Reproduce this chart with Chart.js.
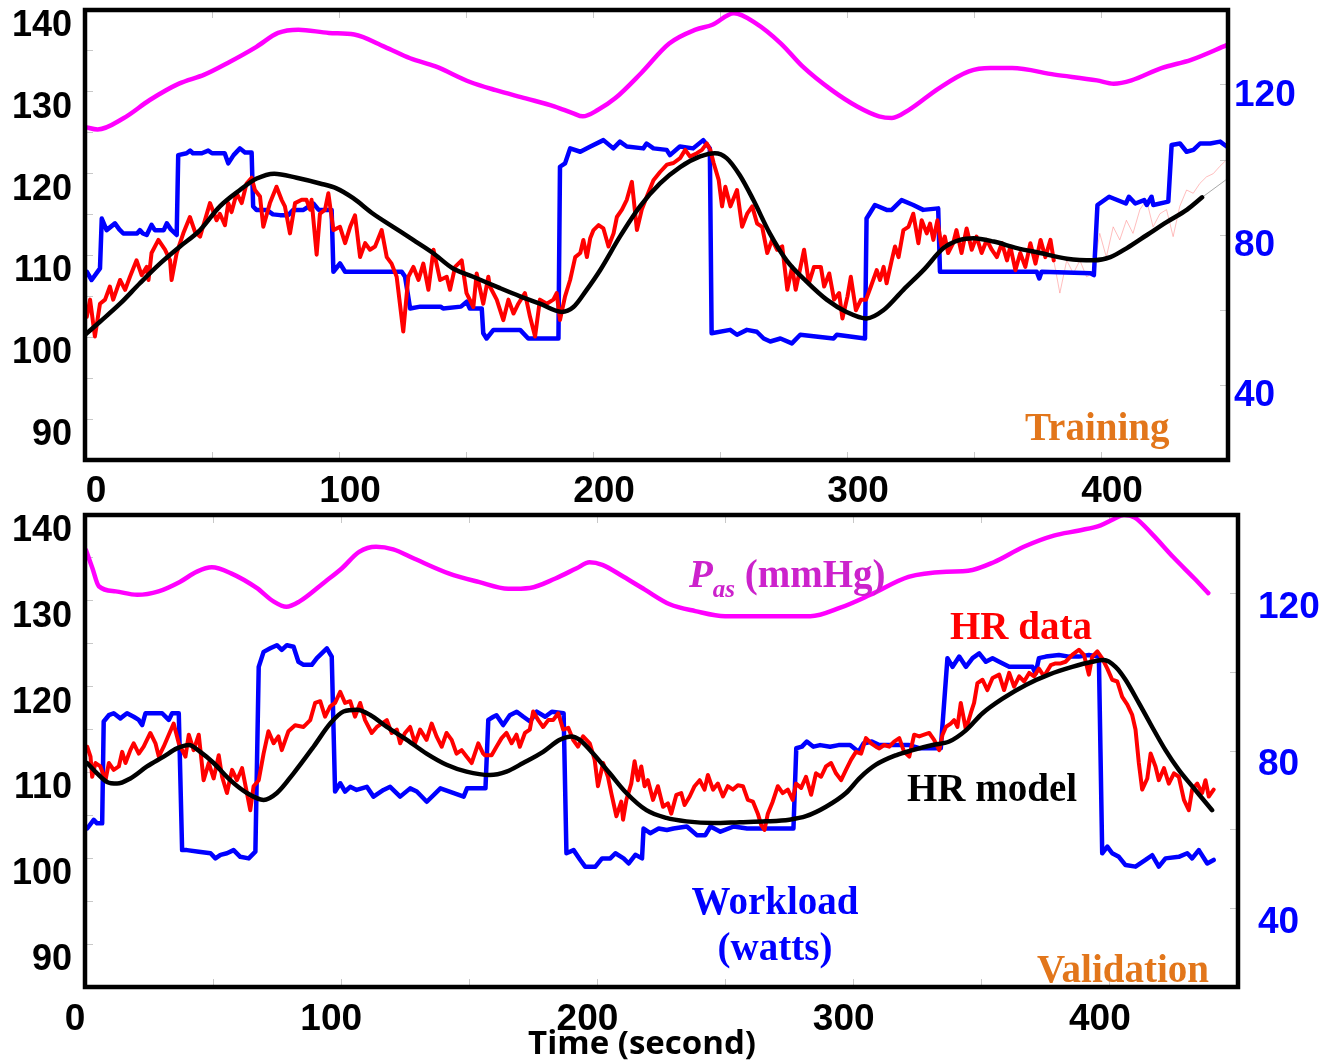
<!DOCTYPE html>
<html><head><meta charset="utf-8">
<script src="https://cdn.jsdelivr.net/npm/chart.js@4.4.1/dist/chart.umd.min.js"></script>
<style>
html,body{margin:0;padding:0;background:#fff;}
#wrap{position:relative;width:1340px;height:1061px;overflow:hidden;background:#fff;}
canvas{position:absolute;left:0;}
#c1{top:0;}
#c2{top:508px;}
</style></head><body>
<div id="wrap">
<canvas id="c1" width="1340" height="508"></canvas>
<canvas id="c2" width="1340" height="553"></canvas>
</div>
<script>
// ---------- tick values / labels ----------
const timeTicks = [0,50,100,150,200,250,300,350,400,450];
const timeTickLabels = [0,100,200,300,400];
const hrTicks = [85,90,95,100,105,110,115,120,125,130,135,140];
const hrTickLabels = [90,100,110,120,130,140];
const workTicks = [20,40,60,80,100,120,140];
const workTickLabels = [40,80,120];

// ---------- TRAINING panel data: [time (s), value] ----------
const trainPas = [[0,125.7],[5,125.4],[15.3,126.8],[25.5,129.0],[37,131.0],[47,132.1],[56,133.5],[67.5,135.5],[76,137.2],[84,137.6],[96,137.2],[106,137.0],[118,135.5],[128,134.1],[138,133.1],[151.6,131.2],[161.7,130.2],[173.5,129.2],[185,128.2],[192,127.4],[196,127.0],[202,127.8],[208.7,129.2],[219,132.3],[230,135.9],[240.4,137.6],[247,138.2],[255.5,139.6],[264,138.4],[274,135.9],[282.5,133.1],[294,130.2],[304,128.2],[312.6,127.0],[317.7,126.8],[324.4,127.8],[336,130.4],[348,132.5],[356.5,132.9],[365,132.9],[381.7,132.1],[398.4,131.4],[405,131.0],[412,131.4],[423.8,132.9],[435.5,133.9],[449.5,135.7]];

const trainWork = [[0.7,70.2],[2.6,68],[5.9,71.1],[6.6,84.4],[8.5,81.3],[11.8,83.1],[13.5,81.5],[15.1,80.4],[20.5,80.4],[21.6,81.3],[22.8,80.4],[24.3,80],[26.2,82.7],[27.5,81.3],[31,81.3],[32.2,83.1],[33.8,81.5],[36.1,80],[36.7,101.3],[40,101.8],[41.4,102.5],[42.5,101.8],[46,101.8],[48.5,102.5],[50,101.8],[55,101.8],[56.4,99.1],[58.5,101.3],[61,103.1],[63,102],[65.6,102],[66.2,87.6],[67.5,86.7],[71.5,86.7],[74,85.5],[76.8,85.3],[80,85.3],[82,86.7],[86,86.7],[89.9,88.4],[92,86.7],[97.1,86.7],[97.8,70.2],[100.4,72.4],[102.4,70.2],[124.7,70.2],[126,68.9],[128,60.4],[132,60.9],[140,60.9],[141,60.4],[148,60.9],[150.3,62.2],[151.5,60.4],[156.2,60.4],[156.8,53.8],[158.1,52.4],[160.8,54.7],[171.3,54.7],[174.5,52.4],[186.4,52.4],[187,98.2],[189,99.1],[191,103.1],[195,102.2],[199,103.6],[204.1,105.3],[208,103.1],[210.6,104.9],[213.3,103.6],[219.8,103.1],[221.1,104.4],[223.8,103.1],[229,102.7],[230.3,101.3],[234.2,103.6],[239.4,103.1],[243.4,105.3],[246,103.1],[246.7,53.8],[254,54.7],[256.7,53.4],[260.6,54.7],[264.5,54.2],[267.2,52.4],[269.8,51.6],[273.8,52.4],[278.3,51.1],[281.6,53.4],[294.7,52.4],[296,53.4],[307.1,52.4],[307.7,84.4],[311,88],[315.6,86.7],[317.6,86.7],[321.5,89.3],[326.1,88],[330,86.7],[335.9,87.1],[336.6,70.2],[374.7,70.2],[375.7,68.4],[376.6,70.2],[395.9,69.8],[397.2,69.3],[398.6,88],[403.2,90.2],[409.8,88.4],[411,90.2],[413.5,88.4],[417,89.3],[418,88],[419.9,90.2],[420.6,88],[426.5,88.9],[427.8,104],[431.1,104.4],[433.7,102.2],[436.4,102.7],[439,104.4],[443,104.4],[446.9,104.9],[449.5,103.6]];

const trainHR = [[0.7,102.5],[2,104.6],[3.9,100.1],[5.9,104.1],[7.9,104.6],[9.8,106.2],[11.1,104.6],[13.8,107],[15.8,105.8],[17.7,107.4],[20.3,109.4],[22.3,107.6],[24.3,108.6],[25,107],[26.2,110.3],[28.9,111.9],[31.5,110.7],[33.5,109.4],[34.1,107],[36.1,110.3],[38.7,112.7],[41.3,114.7],[43.3,112.9],[45.3,112.3],[47.2,114.3],[49.2,116.4],[51.8,114.3],[53.1,115.1],[55.1,113.7],[56.4,116.4],[57.7,115.3],[59.7,117.6],[61.7,116.4],[63.6,118.8],[65.6,119.5],[66.9,118],[68.9,117.2],[70.2,113.5],[72.8,116.4],[75.4,118.4],[77.4,116.8],[78.7,116],[80.7,112.7],[82.7,116.4],[85.3,116.8],[87.2,116.8],[88.6,115.6],[89.2,116.8],[91.2,110.1],[92.5,115.1],[94.5,115.6],[95.8,117.6],[97.8,113.1],[100.4,113.5],[102.4,111.5],[104.4,113.5],[106.3,114.9],[108.3,109.8],[110.3,111.5],[112.2,110.7],[114.2,111.1],[116.8,113.1],[118.8,109.8],[120.7,109],[122.7,107.4],[125.3,100.7],[127.3,107.4],[129.3,108.6],[131.3,107],[133.2,109],[135.2,105.8],[137.2,110.7],[139.8,107],[142.4,107.4],[143.7,105.8],[145.7,108.6],[148.3,109.4],[150.2,105.4],[152.9,103.7],[154.2,107.8],[156.8,104.1],[158.8,107.4],[159.4,106.2],[162.1,104.6],[164.7,102.1],[166.7,104.6],[168.7,102.9],[170.6,104.1],[173.2,105.4],[175.2,102.5],[177.2,100.1],[179.1,104.6],[181.8,104.1],[184.4,104.6],[185.7,105.4],[187,102.1],[189,105],[191,107],[193,109.8],[195,110.3],[196.2,111.9],[197.6,109.8],[198.9,112.1],[200.2,113.1],[202.2,113.7],[204.1,113.3],[206.1,111.1],[208.1,112.7],[209.4,114.7],[211.4,115.6],[213.3,116.8],[215.3,119],[217.3,113.1],[219.2,115.6],[221.2,117.2],[223.8,119.2],[226.4,120.2],[229.1,121.1],[231.7,121.3],[234.3,121.9],[236.3,122.9],[238.2,122.1],[240.9,122.5],[242.9,122.9],[244.8,123.7],[246.2,122.9],[247.5,121.3],[249.5,119.2],[250.8,116],[252.1,118.4],[254.1,116],[256.7,118],[258.7,113.5],[260.7,115.1],[262.7,116],[264.6,113.9],[266.6,113.5],[268.6,110.3],[270.5,111.9],[272.5,110.7],[274.5,111.1],[276.5,105.8],[278.4,108.6],[279.8,105.8],[281.7,108.6],[283.1,110.7],[285,106.6],[287,108.6],[289.7,108.6],[291,106.2],[293,107.8],[294.9,104.6],[296.9,105.4],[298.2,102.3],[300.2,105],[301.5,107.4],[303.5,103.3],[305.5,104.6],[307.5,104.6],[309.4,106.2],[311.7,108.2],[313,107],[314.4,108.6],[315.6,106.6],[317.6,109.4],[318.9,111.1],[320.3,109.8],[322.2,113.1],[324.2,113.5],[326.1,115.1],[328.1,111.5],[329.4,114.3],[331.4,112.7],[332.7,113.9],[334,111.9],[335.6,114.3],[337.2,111.1],[338.5,112.3],[339.8,110.3],[341.8,111.5],[343.1,113.1],[345.1,110.3],[347.1,113.3],[349.1,110.7],[351,112.3],[353,110.3],[355,111.9],[357,110.7],[359,109.8],[361,111.5],[363,109.4],[364.3,111.1],[366.3,108.2],[368.2,110.3],[370.2,108.6],[372.2,111.5],[374.2,109],[376.2,111.9],[378.1,109.8],[380.1,111.9],[381.4,109.4]];

const trainHRFaint = [[381.4,109.4],[383.8,105.4],[386.5,109.4],[389.1,107.8],[391.7,109.4],[394.3,107.4],[396.9,107.8],[399.5,112.7],[402.1,109.8],[404.8,113.5],[407.4,111.9],[410,114.3],[412.6,112.7],[415.3,115.6],[417.9,116.8],[420.5,113.5],[423.2,115.1],[425.8,115.6],[428.4,112.3],[431,116],[433.7,118],[436.3,117.6],[438.9,118.8],[441.5,119.6],[444.2,120],[446.8,120.9],[448.8,121.5]];

const trainModel = [[0,100.3],[5.9,101.9],[13.8,104.1],[21.6,106.6],[29.5,109],[37.4,111.1],[45.3,113.1],[53.1,116],[61,118],[67.6,119.4],[74.5,120],[83.3,119.5],[92.5,118.8],[99,118.2],[105.6,117],[113.4,115.1],[121.3,113.5],[129.2,111.9],[137,110.3],[144.9,108.4],[152.8,107.4],[163.4,106],[171.3,105],[179.1,104.1],[187.7,103.1],[192.3,103.7],[197.5,105.8],[202.8,108.2],[210.6,112.3],[218.5,116],[226.4,118.8],[234.3,120.8],[242.2,122.1],[248,122.5],[252.6,121.9],[257.8,119.8],[263.1,116.8],[269.6,112.7],[276.2,109.4],[284.1,106.8],[292,104.6],[299.8,103.1],[307.7,102.3],[314.3,103.3],[322.2,105.8],[330.1,108.2],[338,110.9],[344.5,111.9],[349.8,112.1],[357.7,111.7],[366.9,110.9],[376.1,110.3],[386.6,109.6],[397.1,109.4],[403.7,109.8],[410.2,110.9],[418.1,112.5],[426,114.1],[433.9,115.6],[439.8,117.1]];

const trainModelFaint = [[439.8,117.1],[449,119.2]];

// ---------- VALIDATION panel data: [time (s), value] ----------
const valPas = [[0.4,135.9],[2.9,133.8],[5.4,131.7],[12,131.1],[20.4,130.7],[28.7,131.1],[37,132.2],[43.7,133.4],[49.5,133.9],[57,133.2],[67,131.5],[73.7,129.9],[78.6,129.3],[83.6,129.9],[93.6,132.2],[100.3,133.8],[107,135.7],[113.6,136.3],[120.3,136],[128.6,134.9],[141.9,133.2],[153.6,132.2],[165.2,131.4],[173.6,131.5],[183.6,132.6],[191.9,133.8],[196.9,134.5],[201.9,134.2],[210.2,132.8],[218.5,131.3],[228.2,129.6],[238.2,128.8],[249.8,128.2],[266.5,128.2],[283.1,128.2],[294.8,129.2],[306.5,130.7],[321.4,132.8],[336.4,133.4],[344.7,133.5],[354.7,134.5],[366.4,136.3],[378.1,137.6],[388.1,138.2],[396.4,138.8],[401.4,139.5],[405.5,140],[409.7,139.7],[416.4,137.8],[424.7,135.1],[433,132.6],[438.4,130.9]];

const valWork = [[0.85,60.3],[3.4,62.5],[4.7,61.6],[6.7,61.6],[7.3,87.5],[9.3,89.1],[11.2,89.6],[13.8,88.3],[16.4,89.6],[19,88.7],[21,87.9],[22.3,86.6],[23.6,89.6],[30.1,89.6],[32.7,87.9],[34,89.6],[36.6,89.6],[37.9,54.8],[39.8,54.8],[44.4,54.4],[49,54],[50.9,52.7],[52.9,53.6],[55.4,54],[58,54.8],[60.6,53.1],[63.9,52.7],[66.5,54.4],[67.8,101.4],[69.7,105.2],[72.3,106.1],[74.9,106.9],[76.8,105.7],[78.8,106.9],[81.4,106.5],[83.3,102.7],[85.3,101.9],[88.5,101.9],[90.5,103.6],[94.4,106.1],[96.3,104],[97.6,69.7],[99.6,71.8],[101.5,69.7],[103.5,70.9],[106,70.1],[110,70.9],[112.6,68.4],[116.5,70.1],[119.1,70.9],[123,68.4],[126.9,70.5],[129.5,69.7],[133.4,67.1],[138.7,70.5],[147.8,68.4],[149.1,70.5],[156.3,70.5],[157.4,87.9],[159.4,88.7],[160.6,89.1],[163.2,86.6],[165.8,89.1],[168.5,90],[171.1,88.7],[173.7,87.5],[176.3,90],[179.6,88.7],[182.2,90],[186.8,89.6],[187.9,54],[190.7,54.8],[193.3,52.3],[195.2,50.6],[199.2,50.6],[201.8,52.7],[205,52.7],[207,54],[210.2,52.7],[212.2,51.4],[214.8,53.6],[217.4,52.7],[218,60.3],[220.6,59.1],[223.9,60.3],[227.1,59.9],[229.7,60.3],[234.9,60.8],[238.8,58.6],[242.1,58.6],[244.1,60.8],[248,59.5],[253.2,60.8],[258.4,60.3],[276.5,60.3],[277.6,80.7],[279.8,81.1],[281.7,82.4],[284.3,81.1],[286.9,81.5],[290.8,81.1],[294.1,81.5],[298.6,81.5],[301.9,79.8],[303.8,81.9],[307.1,82.4],[310,81.5],[315.2,81.5],[321.7,81.5],[325.6,80.7],[334,80.7],[336.6,103.6],[338.6,101.4],[341.2,104],[343.8,101.4],[346.4,103.6],[349,104.8],[351.6,102.7],[354.2,103.6],[356.8,102.7],[360.7,101.4],[369.8,101.4],[371,99.7],[372.3,103.6],[375,104],[380.1,104.4],[384,104],[387.9,104],[391.8,104.4],[395.7,104],[397,54],[399,55.7],[400.9,54],[403.5,53.1],[406.1,51],[410,50.6],[413.9,52.3],[416.5,53.5],[419.1,50.6],[421.7,52.7],[426.9,53.1],[430.2,54],[432.1,52.7],[434.7,54.8],[438,51.4],[440.5,52.3]];

const valHR = [[0.85,113],[2.15,111.85],[2.8,109.5],[4.1,111.1],[6,110.7],[8,109.1],[9.3,111.1],[11.2,110.3],[13.2,110.7],[14.5,112.4],[15.8,111.1],[17.7,112.6],[19,113.4],[21,112.2],[22.9,113],[25.5,114.6],[27.5,113.4],[28.8,111.85],[30.7,113],[32.7,114.4],[34.6,115.7],[36.6,113.4],[39.2,111.85],[40.5,114.4],[42.4,112.6],[44.4,114.4],[46.3,109.1],[48.3,111.1],[50.2,109.3],[52.2,112],[53.5,109.5],[55.4,107.6],[57.4,110.3],[59.3,109.1],[61.3,110.5],[63.2,107.6],[64.5,105.6],[65.8,108.4],[67.8,109.1],[69.7,112.2],[71.6,114.8],[73.6,113.4],[75.5,114.2],[76.8,112.6],[79.4,114.8],[82,115.5],[85.3,115.3],[87.9,116.1],[89.8,118.1],[91.8,118.3],[93.7,116.5],[95.7,117.7],[97.6,118.1],[99.6,119.4],[101.5,118.1],[103.5,118.3],[105.4,116.5],[107.4,118.1],[109.3,116.1],[111.9,114.6],[113.9,115.3],[115.8,115.7],[117.8,116.1],[119.7,114.6],[121.7,115],[123,113.4],[124.9,114.6],[126.9,115.3],[128.8,113.4],[130.8,115],[133.3,113.8],[135.3,115.7],[137.2,114.2],[139.2,113],[141.1,114.6],[143.1,113.8],[145,112.2],[147,112.6],[148.9,111.85],[150.9,111.1],[153.5,113.4],[155.4,112.2],[156.1,112],[158.7,112],[160.6,113],[162.6,114],[164.5,114.6],[166.5,113.4],[168.4,114.4],[169.7,113],[171.7,114.6],[173.6,115],[174.9,117.1],[176.9,116.1],[178.8,115.3],[180.8,116.1],[182.7,116.1],[184.7,116.9],[186.6,115],[188.6,115.2],[190.5,113.8],[192.4,113],[194.4,114.2],[197,113.4],[198.9,111.5],[200.2,108.4],[202.2,111.1],[204.1,109.5],[205.4,107.6],[207.4,104.9],[209.3,106.6],[210,104.5],[211.3,106.8],[213.2,108.7],[214.5,111.3],[215.8,109.1],[217.1,110.7],[218.4,108.4],[219.7,109.1],[221.7,106.8],[223.6,108.4],[225.6,106],[227.5,106.4],[228.8,105.2],[230.8,107.4],[232.7,107.6],[234,106.2],[236,107.2],[237.9,108.4],[239.9,109.1],[241.8,108],[243.1,109.7],[245.1,108],[247,108.7],[249,107.2],[250.9,108.4],[252.9,108],[254.8,108.5],[256.8,108.4],[258.7,106.8],[260.7,106.6],[262.6,105.2],[263.9,103.9],[265.2,103.3],[266.5,105.2],[268.4,106.6],[270.4,108.4],[272.3,107.6],[274.3,108],[276.2,106.8],[277.5,108.7],[279.5,108.2],[281.4,109.5],[283.4,107.4],[285.3,109.9],[287.3,109.5],[289.2,110.7],[291.2,111.1],[293.1,109.9],[295.1,109.1],[297,110.3],[299,111.5],[300.9,112.4],[302.9,112.2],[304.8,114],[306.8,113.4],[308.7,113],[310,112.8],[311.9,113.2],[313.9,113],[315.8,113.6],[317.8,114],[319.7,112.4],[321.7,111.85],[323.6,114.4],[325.6,114.2],[327.5,114.4],[329.5,114.6],[331.4,113.8],[333.4,112.6],[334.7,114.4],[336,115.3],[337.9,115.7],[339.2,116.1],[340.5,115.3],[341.8,118.1],[343.8,115],[345.7,116.9],[347,118.1],[348.3,120.4],[350.3,120.8],[352.2,119.6],[354.2,121],[356.8,121.4],[358.7,119.6],[360.7,121.6],[362.6,120],[364.6,121.2],[366.5,120.6],[368.5,121.6],[370.4,121.2],[372.3,122.1],[374.3,121.2],[376.9,122.5],[378.8,122.7],[380.8,122.7],[382.7,122.9],[385.3,123.7],[387.9,124.3],[389.9,123.7],[391.8,121.4],[393.1,123.5],[395.1,124.1],[397,123.3],[399,122.1],[400.9,120.8],[402.9,120.6],[404.8,118.8],[406.8,117.9],[408.7,116.7],[410,115],[411.3,111.1],[412.6,108],[414.6,109.3],[415.9,112.2],[417.8,110.7],[419.1,109.1],[421.1,110.5],[423,108.7],[425,109.9],[426.9,109.5],[428.9,106.8],[430.8,105.6],[432.1,108],[434.1,108.7],[436,107.6],[437.3,109.1],[438.6,107.2],[440.5,108]];

const valModel = [[0.85,111.1],[4.7,109.9],[8.6,108.9],[12.5,108.7],[17.7,109.3],[24.2,110.7],[30.7,111.85],[35.9,112.8],[40.5,113.2],[45,112.4],[50.2,111.1],[56.7,109.1],[63.2,107.6],[69.7,106.8],[74.9,107.6],[81.4,109.9],[89.2,113],[95.7,115.7],[100.9,117.1],[106.1,117.3],[111.3,116.7],[117.8,115.3],[125.6,113.8],[133.3,112.2],[141.1,110.9],[148.9,110.1],[158,109.7],[164.5,110.1],[171,111.1],[178.8,112.4],[185.3,113.8],[189.9,114.2],[193.1,113.8],[198.3,112.2],[204.8,109.9],[211.3,107.6],[219.1,105.6],[226.9,104.7],[234.7,104.3],[245.1,104.1],[255.5,104.2],[265.8,104.3],[274.9,104.5],[281.4,104.9],[289.2,106],[297,107.6],[302.5,109.4],[308.7,110.9],[316.5,112],[323,112.6],[330.8,113.2],[337.3,113.6],[343.8,114.9],[350.3,116.9],[358.1,118.6],[367.2,120.2],[376.2,121.4],[385.3,122.3],[393.1,122.9],[397.7,123.1],[402.2,122.3],[406.1,120.8],[411.3,118.1],[416.5,115.3],[421.7,112.6],[426.9,110.3],[432.1,108.4],[436,107],[439.9,105.6]];

// ---------- helpers ----------
const toXY = arr => arr.map(p => ({x: p[0], y: p[1]}));
const tickObjs = vals => vals.map(v => ({value: v}));
const SANS = '"Liberation Sans", Arial, sans-serif';
const SERIF = '"Liberation Serif", "Times New Roman", serif';

const framePlugin = {
  id: 'frame',
  afterDatasetsDraw(chart) {
    const {ctx, chartArea: a} = chart;
    ctx.save();
    ctx.strokeStyle = '#000';
    ctx.lineWidth = 4.5;
    ctx.strokeRect(a.left, a.top, a.right - a.left, a.bottom - a.top);
    ctx.restore();
  }
};

const notesPlugin = {
  id: 'notes',
  afterDraw(chart, args, opts) {
    const ctx = chart.ctx;
    (opts.items || []).forEach(it => {
      ctx.save();
      ctx.fillStyle = it.color;
      ctx.textBaseline = 'alphabetic';
      let total = 0;
      it.runs.forEach(r => { ctx.font = r.font; total += ctx.measureText(r.text).width; });
      let x = it.align === 'center' ? it.x - total / 2 : it.x;
      ctx.textAlign = 'left';
      it.runs.forEach(r => {
        ctx.font = r.font;
        ctx.fillText(r.text, x, it.y + (r.dy || 0));
        x += ctx.measureText(r.text).width;
      });
      ctx.restore();
    });
  }
};

function lineDs(data, color, width, axis, extra) {
  return Object.assign({
    data: toXY(data), borderColor: color, backgroundColor: color, borderWidth: width,
    pointRadius: 0, fill: false, tension: 0, xAxisID: 'x', yAxisID: axis,
    borderJoinStyle: 'round', borderCapStyle: 'round'
  }, extra || {});
}

function makePanel(canvas, P) {
  const tickGrid = {drawOnChartArea: false, drawTicks: true, tickLength: -8, tickColor: '#c8c8c8', tickWidth: 1};
  const zeroPad = s => { s.paddingLeft = 0; s.paddingRight = 0; s.paddingTop = 0; s.paddingBottom = 0; };
  return new Chart(canvas, {
    type: 'line',
    data: {
      datasets: [
        lineDs(P.model, '#000000', 4.5, 'y', {cubicInterpolationMode: 'monotone'}),
        lineDs(P.hr, '#ff0000', 4, 'y'),
        lineDs(P.work, '#0000ff', 4.5, 'y2'),
        lineDs(P.pas, '#ff00ff', 4.5, 'y', {cubicInterpolationMode: 'monotone'}),
        lineDs(P.hrFaint || [], 'rgba(255,110,110,0.45)', 1, 'y'),
        lineDs(P.modelFaint || [], 'rgba(110,110,110,0.6)', 1, 'y')
      ]
    },
    options: {
      responsive: false, animation: false, devicePixelRatio: 1,
      layout: {padding: {top: P.padTop, left: 0, right: 0, bottom: 0}, autoPadding: false},
      plugins: {legend: {display: false}, tooltip: {enabled: false}, notes: {items: P.notes}},
      scales: {
        x: {
          type: 'linear', position: 'bottom', min: 0, max: 450,
          afterBuildTicks: s => { s.ticks = tickObjs(timeTicks); },
          ticks: {
            autoSkip: false, maxRotation: 0, minRotation: 0,
            callback: v => timeTickLabels.includes(v) ? String(v) : '',
            labelOffset: P.xLabelOffset, padding: P.xPad, color: '#000',
            font: {family: SANS, weight: 'bold', size: 37}
          },
          grid: tickGrid, border: {display: false},
          afterFit: s => { s.height = P.bottomH; zeroPad(s); }
        },
        xTop: {
          type: 'linear', position: 'top', min: 0, max: 450,
          afterBuildTicks: s => { s.ticks = tickObjs(timeTicks); },
          ticks: {display: false},
          grid: tickGrid, border: {display: false},
          afterFit: s => { s.height = 0; zeroPad(s); }
        },
        y: {
          type: 'linear', position: 'left', min: 85, max: 140,
          afterBuildTicks: s => { s.ticks = tickObjs(hrTicks); },
          ticks: {
            autoSkip: false,
            callback: v => hrTickLabels.includes(v) ? String(v) : '',
            labelOffset: P.yLabelOffset, padding: 21, color: '#000',
            font: {family: SANS, weight: 'bold', size: 36}
          },
          grid: tickGrid, border: {display: false},
          afterFit: s => { s.width = 85; zeroPad(s); }
        },
        y2: {
          type: 'linear', position: 'right', min: 20, max: 140,
          afterBuildTicks: s => { s.ticks = tickObjs(workTicks); },
          ticks: {
            autoSkip: false,
            callback: v => workTickLabels.includes(v) ? String(v) : '',
            labelOffset: P.y2LabelOffset, padding: P.y2Pad, color: '#0000ff',
            font: {family: SANS, weight: 'bold', size: 37}
          },
          grid: tickGrid, border: {display: false},
          afterFit: s => { s.width = P.rightW; zeroPad(s); }
        }
      }
    },
    plugins: [framePlugin, notesPlugin]
  });
}

// ---------- Training panel ----------
makePanel(document.getElementById('c1'), {
  model: trainModel, hr: trainHR, work: trainWork, pas: trainPas,
  hrFaint: trainHRFaint, modelFaint: trainModelFaint,
  padTop: 10, bottomH: 48, rightW: 112,
  xLabelOffset: 11, xPad: 18, yLabelOffset: 16, y2LabelOffset: 10.5, y2Pad: 14,
  notes: [
    {x: 1025, y: 440, color: '#e2761b', runs: [{text: 'Training', font: 'bold 39px ' + SERIF}]}
  ]
});

// ---------- Validation panel ----------
makePanel(document.getElementById('c2'), {
  model: valModel, hr: valHR, work: valWork, pas: valPas,
  padTop: 7, bottomH: 74, rightW: 102,
  xLabelOffset: -10, xPad: 19, yLabelOffset: 16, y2LabelOffset: 14, y2Pad: 28,
  notes: [
    {x: 689, y: 79, color: '#cc22cc', runs: [
      {text: 'P', font: 'italic bold 39px ' + SERIF},
      {text: 'as', font: 'italic bold 25px ' + SERIF, dy: 10},
      {text: ' (mmHg)', font: 'bold 39px ' + SERIF}
    ]},
    {x: 950, y: 131, color: '#ff0000', runs: [{text: 'HR data', font: 'bold 39px ' + SERIF}]},
    {x: 907, y: 293, color: '#000000', runs: [{text: 'HR model', font: 'bold 39px ' + SERIF}]},
    {x: 775, y: 406, align: 'center', color: '#0000ff', runs: [{text: 'Workload', font: 'bold 39px ' + SERIF}]},
    {x: 775, y: 452, align: 'center', color: '#0000ff', runs: [{text: '(watts)', font: 'bold 39px ' + SERIF}]},
    {x: 1037, y: 474, color: '#e2761b', runs: [{text: 'Validation', font: 'bold 39px ' + SERIF}]},
    {x: 642, y: 546, align: 'center', color: '#000000', runs: [{text: 'Time (second)', font: 'bold 33px "Open Sans", sans-serif'}]}
  ]
});
</script>
</body></html>
